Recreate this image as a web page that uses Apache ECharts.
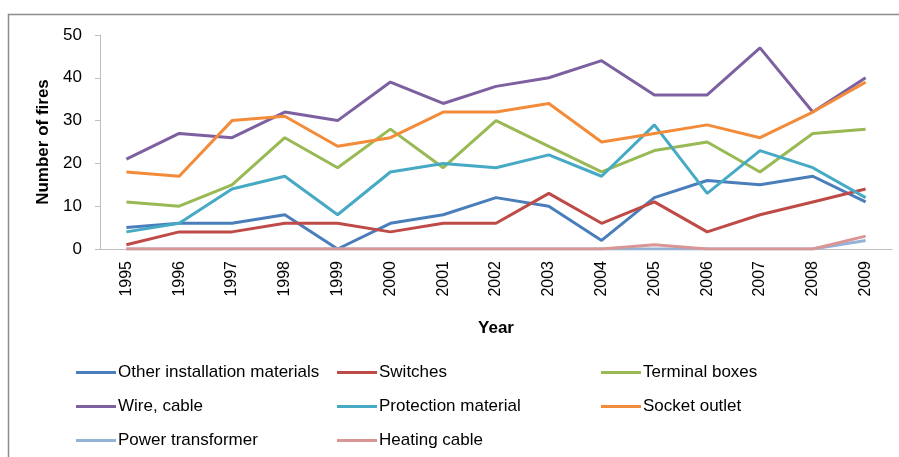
<!DOCTYPE html>
<html>
<head>
<meta charset="utf-8">
<script src="https://cdn.jsdelivr.net/npm/echarts@6/dist/echarts.min.js"></script>
<style>
  html, body { margin: 0; padding: 0; background: #fff; }
  #chart { width: 899px; height: 457px; }
</style>
</head>
<body>
<div id="chart"></div>
<script>
  // years on the x axis
  var years = ['1995','1996','1997','1998','1999','2000','2001','2002','2003','2004','2005','2006','2007','2008','2009'];

  // number of fires per product group
  var otherInstallation = [5, 6, 6, 8, 0, 6, 8, 12, 10, 2, 12, 16, 15, 17, 11];
  var switches          = [1, 4, 4, 6, 6, 4, 6, 6, 13, 6, 11, 4, 8, 11, 14];
  var terminalBoxes     = [11, 10, 15, 26, 19, 28, 19, 30, 24, 18, 23, 25, 18, 27, 28];
  var wireCable         = [21, 27, 26, 32, 30, 39, 34, 38, 40, 44, 36, 36, 47, 32, 40];
  var protection        = [4, 6, 14, 17, 8, 18, 20, 19, 22, 17, 29, 13, 23, 19, 12];
  var socketOutlet      = [18, 17, 30, 31, 24, 26, 32, 32, 34, 25, 27, 29, 26, 32, 39];
  var powerTransformer  = [0, 0, 0, 0, 0, 0, 0, 0, 0, 0, 0, 0, 0, 0, 2];
  var heatingCable      = [0, 0, 0, 0, 0, 0, 0, 0, 0, 0, 1, 0, 0, 0, 3];

  var yTicks = [0, 10, 20, 30, 40, 50];

  var font = 'Liberation Sans';
  var chart = echarts.init(document.getElementById('chart'));

  function line(name, data, color) {
    return {
      name: name,
      type: 'line',
      data: data,
      symbol: 'none',
      lineStyle: { width: 3, color: color },
      itemStyle: { color: color }
    };
  }

  function legendCol(left, names) {
    return {
      orient: 'vertical',
      left: left,
      top: 359,
      itemGap: 17,
      itemWidth: 40,
      itemHeight: 3,
      icon: 'rect',
      data: names,
      textStyle: { fontFamily: font, fontSize: 17, color: '#000', padding: [0, 0, 0, -3] }
    };
  }

  chart.setOption({
    animation: false,
    graphic: [{
      type: 'rect',
      shape: { x: 8.5, y: 14.5, width: 1000, height: 1000 },
      style: { fill: 'none', stroke: '#8c8c8c', lineWidth: 1.5 },
      silent: true
    }],
    grid: { left: 100, right: 7, top: 35, bottom: 208 },
    legend: [
      legendCol(71, ['Other installation materials', 'Wire, cable', 'Power transformer']),
      legendCol(332, ['Switches', 'Protection material', 'Heating cable']),
      legendCol(596, ['Terminal boxes', 'Socket outlet'])
    ],
    xAxis: {
      type: 'category',
      data: years,
      name: 'Year',
      nameLocation: 'middle',
      nameGap: 71,
      nameTextStyle: { fontFamily: font, fontSize: 17, fontWeight: 'bold', color: '#000' },
      axisLine: { lineStyle: { color: '#bfbfbf', width: 1 } },
      axisTick: { length: 6, lineStyle: { color: '#bfbfbf' } },
      axisLabel: { rotate: 90, fontFamily: font, fontSize: 16, color: '#000', margin: 12 }
    },
    yAxis: {
      type: 'value',
      min: yTicks[0],
      max: yTicks[yTicks.length - 1],
      interval: 10,
      name: 'Number of fires',
      nameLocation: 'middle',
      nameGap: 48,
      nameRotate: 90,
      nameTextStyle: { fontFamily: font, fontSize: 17, fontWeight: 'bold', color: '#000' },
      axisLine: { show: true, lineStyle: { color: '#bfbfbf', width: 1 } },
      axisTick: { show: true, length: 5, lineStyle: { color: '#bfbfbf' } },
      splitLine: { show: false },
      axisLabel: { fontFamily: font, fontSize: 17, color: '#000', margin: 18 }
    },
    series: [
      line('Other installation materials', otherInstallation, '#4a7ebb'),
      line('Switches', switches, '#be4b48'),
      line('Terminal boxes', terminalBoxes, '#98b954'),
      line('Wire, cable', wireCable, '#7d60a0'),
      line('Protection material', protection, '#46aac5'),
      line('Socket outlet', socketOutlet, '#f28c3b'),
      line('Power transformer', powerTransformer, '#94b2d6'),
      line('Heating cable', heatingCable, '#d99694')
    ]
  });
</script>
</body>
</html>
